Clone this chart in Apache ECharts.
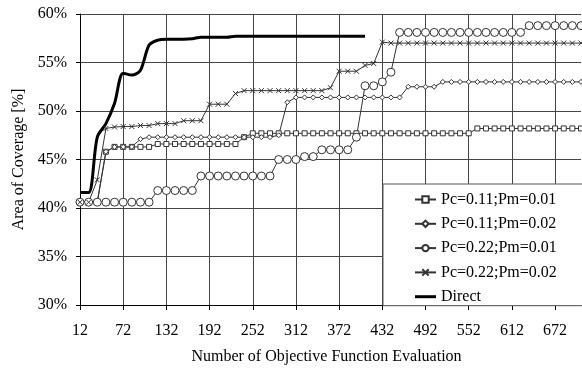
<!DOCTYPE html>
<html>
<head>
<meta charset="utf-8">
<script src="https://cdn.jsdelivr.net/npm/echarts@6/dist/echarts.min.js"></script>
<style>
html,body{margin:0;padding:0;background:#fff;}
#chart{width:582px;height:370px;}
</style>
</head>
<body>
<div id="chart"></div>
<script>
const categories = [12,24,36,48,60,72,84,96,108,120,132,144,156,168,180,192,204,216,228,240,252,264,276,288,300,312,324,336,348,360,372,384,396,408,420,432,444,456,468,480,492,504,516,528,540,552,564,576,588,600,612,624,636,648,660,672,684,696,708];
const yTickLabels = ['30%','35%','40%','45%','50%','55%','60%'];
const seriesNames = ['Pc=0.11;Pm=0.01','Pc=0.11;Pm=0.02','Pc=0.22;Pm=0.01','Pc=0.22;Pm=0.02','Direct'];

const pc011pm001 = [40.6,40.6,40.6,45.8,46.3,46.3,46.3,46.3,46.3,46.6,46.6,46.6,46.6,46.6,46.6,46.6,46.6,46.6,46.6,47.3,
  47.7,47.7,47.7,47.7,47.7,47.7,47.7,47.7,47.7,47.7,47.7,47.7,47.7,47.7,47.7,47.7,47.7,47.7,47.7,47.7,47.7,47.7,47.7,47.7,47.7,47.7,
  48.2,48.2,48.2,48.2,48.2,48.2,48.2,48.2,48.2,48.2,48.2,48.2,48.2];
const pc011pm002 = [40.6,40.6,40.6,45.8,46.3,46.3,46.3,47.1,
  47.3,47.3,47.3,47.3,47.3,47.3,47.3,47.3,47.3,47.3,47.3,47.3,47.3,47.3,47.3,47.5,50.9,
  51.4,51.4,51.4,51.4,51.4,51.4,51.4,51.4,51.4,51.4,51.4,51.4,51.4,
  52.5,52.5,52.5,52.5,
  53.0,53.0,53.0,53.0,53.0,53.0,53.0,53.0,53.0,53.0,53.0,53.0,53.0,53.0,53.0,53.0,53.0];
const pc022pm001 = [40.6,40.6,40.6,40.6,40.6,40.6,40.6,40.6,40.6,
  41.8,41.8,41.8,41.8,41.8,
  43.3,43.3,43.3,43.3,43.3,43.3,43.3,43.3,43.3,
  45.0,45.0,45.0,45.3,45.3,46.0,46.0,46.0,46.0,47.3,52.6,52.6,53.0,54.0,
  58.1,58.1,58.1,58.1,58.1,58.1,58.1,58.1,58.1,58.1,58.1,58.1,58.1,58.1,58.1,
  58.8,58.8,58.8,58.8,58.8,58.8,58.8];
const pc022pm002 = [40.6,40.6,42.9,48.2,48.35,48.4,48.4,48.5,48.5,48.7,48.7,48.7,49.0,49.0,49.0,50.7,50.7,50.7,51.8,
  52.1,52.1,52.1,52.1,52.1,52.1,52.1,52.1,52.1,52.1,52.4,54.1,54.1,54.1,54.7,54.9,57.1,
  57.0,57.0,57.0,57.0,57.0,57.0,57.0,57.0,57.0,57.0,57.0,57.0,57.0,57.0,57.0,57.0,57.0,57.0,57.0,57.0,57.0,57.0,57.0];
const direct = [41.6,41.6,47.3,48.7,50.8,53.9,53.7,54.2,56.8,57.3,57.4,57.4,57.4,57.45,57.6,57.6,57.6,57.6,
  57.7,57.7,57.7,57.7,57.7,57.7,57.7,57.7,57.7,57.7,57.7,57.7,57.7,57.7,57.7,57.7,
  null,null,null,null,null,null,null,null,null,null,null,null,null,null,null,null,null,null,null,null,null,null,null,null,null];

const FONT = "'Liberation Serif','Times New Roman',serif";
const chart = echarts.init(document.getElementById('chart'), null, {renderer:'canvas'});

function thinSeries(name, data, symbol, size, fill) {
  return {
    name: name, type: 'line', data: data, symbol: symbol, symbolSize: size,
    showAllSymbol: true, smooth: false, animation: false,
    lineStyle: {color: '#333', width: 1},
    itemStyle: {color: fill, borderColor: '#333', borderWidth: 1},
    emphasis: {disabled: true}
  };
}

const legendData = seriesNames.map(function (n, i) {
  return i === 4 ? {name: n, icon: 'path://M0,0L21,0L21,3L0,3Z'} : {name: n};
});

chart.setOption({
  animation: false,
  backgroundColor: '#fff',
  grid: {left: 80, top: 14, right: 1, bottom: 65, containLabel: false},
  xAxis: {
    type: 'category', data: categories, boundaryGap: false,
    name: 'Number of Objective Function Evaluation', nameLocation: 'middle', nameGap: 44,
    nameTextStyle: {fontFamily: FONT, fontSize: 16, color: '#000', padding: [0, 8, 0, 0]},
    axisLine: {lineStyle: {color: '#000', width: 1}},
    axisTick: {show: true, interval: 4, length: 5, lineStyle: {color: '#000'}},
    axisLabel: {interval: 4, margin: 18, fontFamily: FONT, fontSize: 16, color: '#000'},
    splitLine: {show: true, interval: 4, lineStyle: {color: '#444', width: 1}}
  },
  yAxis: {
    type: 'value', min: 30, max: 60, interval: 5,
    name: 'Area of Coverage [%]', nameLocation: 'middle', nameGap: 53,
    nameTextStyle: {fontFamily: FONT, fontSize: 16, color: '#000'},
    axisLine: {show: true, lineStyle: {color: '#000', width: 1}},
    axisTick: {show: true, length: 4, lineStyle: {color: '#000'}},
    axisLabel: {margin: 13, fontFamily: FONT, fontSize: 16, color: '#000',
      formatter: function (v) { return yTickLabels[Math.round((v - 30) / 5)]; }},
    splitLine: {show: true, lineStyle: {color: '#444', width: 1}}
  },
  legend: {
    orient: 'vertical', left: 383, top: 184,
    data: legendData,
    itemWidth: 21, itemHeight: 8, itemGap: 8.3,
    symbolKeepAspect: true,
    padding: [7.5, 40, 1, 31],
    backgroundColor: '#fff', borderColor: '#555', borderWidth: 1,
    textStyle: {fontFamily: FONT, fontSize: 16, color: '#000'},
    selectedMode: false
  },
  series: [
    thinSeries(seriesNames[0], pc011pm001, 'rect', 5, '#fff'),
    thinSeries(seriesNames[1], pc011pm002, 'diamond', 5, '#fff'),
    thinSeries(seriesNames[2], pc022pm001, 'circle', 8, '#fff'),
    thinSeries(seriesNames[3], pc022pm002, 'path://M0,0L10,10M10,0L0,10', 5, 'transparent'),
    {
      name: seriesNames[4], type: 'line', data: direct, symbol: 'none', smooth: 0.3,
      connectNulls: false, animation: false,
      lineStyle: {color: '#000', width: 3},
      itemStyle: {color: '#000'},
      emphasis: {disabled: true}
    }
  ]
});
</script>
</body>
</html>
